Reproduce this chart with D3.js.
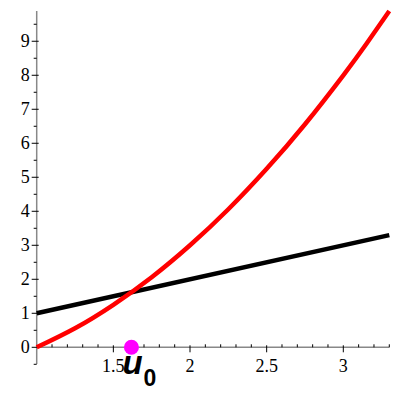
<!DOCTYPE html>
<html><head><meta charset="utf-8">
<script src="https://cdn.jsdelivr.net/npm/d3@7"></script>
<style>body{margin:0;background:#fff}svg{display:block}
.lbl{font-family:'Liberation Serif','Tinos','Times New Roman','DejaVu Serif',serif;font-size:18px;fill:#000}
.pl{font-family:'Liberation Sans','DejaVu Sans',sans-serif;font-weight:bold;font-style:italic;fill:#000}
</style>
</head><body>
<svg id="c" width="400" height="400"></svg>
<script>
const curveX = [1, 1.25, 1.5, 1.75, 2, 2.25, 2.5, 2.75, 3, 3.15, 3.3];
const curveY = [0, 0.56, 1.25, 2.06, 3, 4.06, 5.25, 6.56, 8, 8.92, 9.89];
const lineX = [1, 3.3];
const lineY = [1, 3.3];
const xTicks = [1.5, 2, 2.5, 3];
const yTicks = [0, 1, 2, 3, 4, 5, 6, 7, 8, 9];
const pointX = 1.618, pointY = 0;
const pointLabel = "u", pointSub = "0";

const svg = d3.select("#c");
const x = d3.scaleLinear().domain([1, 3.3]).range([36.7, 389.3]);
const y = d3.scaleLinear().domain([0, 9.89]).range([347.3, 11]);
const axisCol = "#888";

// x axis
const xa = svg.append("g").attr("transform", `translate(0,${y(0)})`);
xa.append("line").attr("x1", x(1)).attr("x2", x(3.3)).attr("stroke", axisCol).attr("stroke-width", 1.5);
const xMinor = d3.range(11, 34).map(d => d / 10).filter(d => !xTicks.some(t => Math.abs(t - d) < 1e-9));
xa.selectAll(".xm").data(xMinor).enter().append("line")
  .attr("x1", d => x(d)).attr("x2", d => x(d)).attr("y1", 0).attr("y2", -3)
  .attr("stroke", "#000").attr("stroke-width", 1);
xa.selectAll(".xM").data(xTicks).enter().append("line")
  .attr("x1", d => x(d)).attr("x2", d => x(d)).attr("y1", -2).attr("y2", 5)
  .attr("stroke", "#000").attr("stroke-width", 1);
xa.selectAll(".xl").data(xTicks).enter().append("text").attr("class", "lbl")
  .attr("x", d => x(d)).attr("y", 25).attr("text-anchor", "middle")
  .text(d => d);

// y axis
const ya = svg.append("g").attr("transform", `translate(${x(1)},0)`);
ya.append("line").attr("y1", 11).attr("y2", 364).attr("stroke", axisCol).attr("stroke-width", 1.5);
const yMinor = d3.range(0, 20).map(d => d / 2 + 0.5).filter(d => d < 9.89 && !yTicks.includes(d));
ya.selectAll(".ym").data(yMinor).enter().append("line")
  .attr("y1", d => y(d)).attr("y2", d => y(d)).attr("x1", 0).attr("x2", -3)
  .attr("stroke", "#000").attr("stroke-width", 1);
ya.append("line").attr("y1", y(-0.5)).attr("y2", y(-0.5)).attr("x1", 0).attr("x2", -3).attr("stroke", "#000");
ya.selectAll(".yM").data(yTicks).enter().append("line")
  .attr("y1", d => y(d)).attr("y2", d => y(d)).attr("x1", -5).attr("x2", 2)
  .attr("stroke", "#000").attr("stroke-width", 1);
ya.selectAll(".yl").data(yTicks).enter().append("text").attr("class", "lbl")
  .attr("x", -7).attr("y", d => y(d) + 6).attr("text-anchor", "end")
  .text(d => d);

// lines
const gen = d3.line().x(d => x(d[0])).y(d => y(d[1]));
svg.append("path").datum(lineX.map((v, i) => [v, lineY[i]]))
  .attr("d", gen).attr("fill", "none").attr("stroke", "#000").attr("stroke-width", 4.5);
svg.append("path").datum(curveX.map((v, i) => [v, curveY[i]]))
  .attr("d", gen.curve(d3.curveNatural)).attr("fill", "none").attr("stroke", "#ff0000").attr("stroke-width", 4.5);

// point
svg.append("circle").attr("cx", x(pointX)).attr("cy", y(pointY)).attr("r", 7.5).attr("fill", "#ff00ff");
const t = svg.append("text").attr("class", "pl").attr("x", x(pointX) - 9).attr("y", 374)
  .attr("font-size", 33);
t.append("tspan").text(pointLabel);
t.append("tspan").attr("font-size", 23).attr("font-style", "normal").attr("dx", 1).attr("dy", 12).text(pointSub);
</script>
</body></html>
